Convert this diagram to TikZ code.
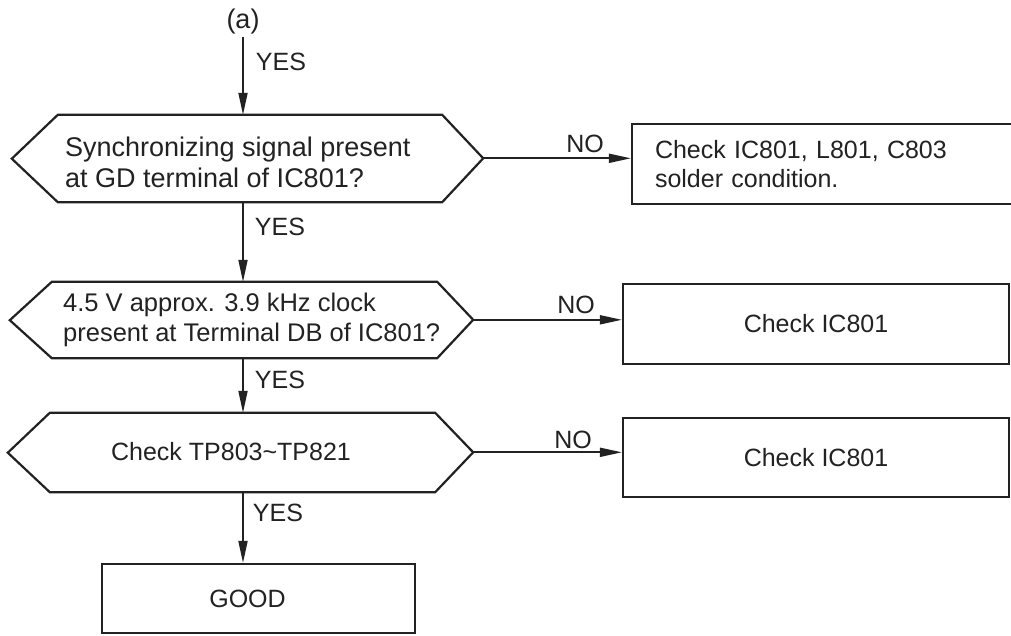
\documentclass[tikz,border=0pt]{standalone}
\usepackage{fontspec}
\setmainfont{Liberation Sans}
\usetikzlibrary{arrows.meta}
\definecolor{ink}{HTML}{222222}
\begin{document}
\begin{tikzpicture}[x=1pt,y=-1pt,
  line/.style={draw=ink, line width=2.2pt, line join=miter},
  arr/.style={draw=ink, line width=1.8pt, -{Triangle[length=22pt,width=9pt]}},
  hexb/.style={shape=rectangle, inner sep=0pt},
  hextext/.style={text=ink, font=\fontsize{27}{31}\selectfont, align=left, anchor=west, inner sep=0pt},
  box/.style={draw=ink, text=ink, line width=2.2pt, inner sep=0pt, font=\fontsize{25}{29}\selectfont, align=center},
  lab/.style={text=ink, font=\fontsize{25}{29}\selectfont, inner sep=0pt}
]
\fill[white] (0,0) rectangle (1011,635);
\useasboundingbox (0,0) rectangle (1011,635);

% start label
\node[lab, font=\fontsize{27}{31}\selectfont, inner sep=2pt] (a) at (243,22) {(a)};

% decision 1
\node[hexb, minimum width=384pt, minimum height=87pt] (h1) at (250,158.5) {};
\draw[line] (h1.north west) -- (h1.north east) -- ++(41,43.5) coordinate (h1r)
  -- (h1.south east) -- (h1.south west) -- ++(-46,-43.5) -- cycle;
\node[hextext] (t1) at (65,162) {Synchronizing signal present\\at GD terminal of IC801?};

% decision 2
\node[hexb, minimum width=385pt, minimum height=76pt] (h2) at (244.5,320) {};
\draw[line] (h2.north west) -- (h2.north east) -- ++(36,38) coordinate (h2r)
  -- (h2.south east) -- (h2.south west) -- ++(-42,-38) -- cycle;
\node[hextext, font=\fontsize{25.5}{30}\selectfont] (t2) at (63,320) {4.5 V approx. 3.9 kHz clock\\present at Terminal DB of IC801?};

% decision 3
\node[hexb, minimum width=385pt, minimum height=79pt] (h3) at (242.5,452.5) {};
\draw[line] (h3.north west) -- (h3.north east) -- ++(38,39.5) coordinate (h3r)
  -- (h3.south east) -- (h3.south west) -- ++(-42,-39.5) -- cycle;
\node[lab] (t3) at (231,452) {Check TP803\char"007E TP821};

% result boxes
\node[box, minimum width=398pt, minimum height=80pt, text width=352pt, inner xsep=23pt, align=left] (b1) at (831,164) {Check IC801, L801, C803\\solder condition.};
\node[box, minimum width=386pt, minimum height=80pt] (b2) at (816,324) {Check IC801};
\node[box, minimum width=386pt, minimum height=79pt] (b3) at (816,457.5) {Check IC801};
\node[box, minimum width=313pt, minimum height=69pt] (g) at (258.5,598.5) {\hspace*{-22pt}GOOD};

% vertical connectors
\draw[arr] (a.south) -- (a.south |- h1.north);
\draw[arr] (a |- h1.south) -- (a |- h2.north);
\draw[arr] (a |- h2.south) -- (a |- h3.north);
\draw[arr] (a |- h3.south) -- (a |- g.north);

% horizontal connectors
\draw[arr] (h1r) -- (h1r -| b1.west);
\draw[arr] (h2r) -- (h2r -| b2.west);
\draw[arr] (h3r) -- (h3r -| b3.west);

% YES / NO labels
\node[lab] (y1) at (281,62) {YES};
\node[lab] (y2) at (280,227) {YES};
\node[lab] (y3) at (280,380) {YES};
\node[lab] (y4) at (278,513) {YES};
\node[lab] (n1) at (585,144) {NO};
\node[lab] (n2) at (576,305) {NO};
\node[lab] (n3) at (573,440) {NO};
\end{tikzpicture}
\end{document}
